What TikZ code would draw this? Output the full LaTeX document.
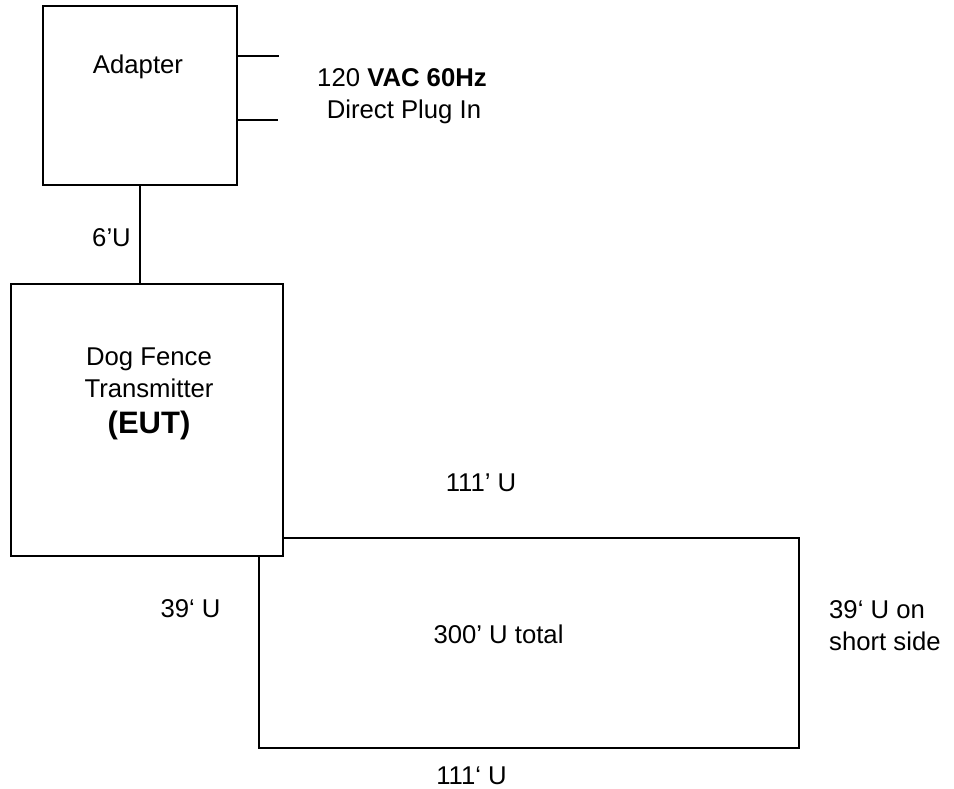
\documentclass[tikz,border=0pt]{standalone}
\usepackage{fontspec}
\setmainfont{Liberation Sans}
\begin{document}
\begin{tikzpicture}[x=1pt,y=-1pt,
  wire/.style={line width=1.8pt, line cap=rect},
  box/.style={draw, line width=1.8pt, rectangle, inner sep=0pt},
  lbl/.style={anchor=base, inner sep=0pt, font=\fontsize{25.7}{30}\selectfont},
  lblw/.style={anchor=base west, inner sep=0pt, font=\fontsize{25.7}{30}\selectfont}]
\useasboundingbox[fill=white] (0,0) rectangle (954,789);
% boxes
\node[box, minimum width=194pt, minimum height=179pt] (adapter) at (140,95.5) {};
\node[box, minimum width=272pt, minimum height=272pt] (tx) at (147,420) {};
% texts
\node[lbl] (tadapter) at (138,73.5) {Adapter};
\node[lbl] (tvac) at (402,86.5) {120 \textbf{VAC 60Hz}};
\node[lbl] (tplug) at (404,118.5) {Direct Plug In};
\node[lbl] (t6u) at (111.5,247) {6’U};
\node[lbl] (tdog) at (149,365.5) {Dog Fence};
\node[lbl] (ttrans) at (149,397.5) {Transmitter};
\node[anchor=base, inner sep=0pt, font=\fontsize{31}{36}\selectfont\bfseries] (teut) at (149,433) {(EUT)};
\node[lbl] (t111a) at (481,491.5) {111’ U};
\node[lbl] (t39a) at (190.5,617.5) {39‘ U};
\node[lbl] (t300) at (498.5,643.5) {300’ U total};
\node[lblw] (t39b) at (829,618.5) {39‘ U on};
\node[lblw] (tshort) at (829,650.5) {short side};
\node[lbl] (t111b) at (471.5,784.5) {111‘ U};
% plug prongs
\coordinate (p1) at (278,56);
\coordinate (p2) at (277,120);
\draw[wire] (adapter.east |- p1) -- (p1);
\draw[wire] (adapter.east |- p2) -- (p2);
% adapter to transmitter cable
\draw[wire] (adapter.south) -- (adapter.south |- tx.north);
% fence loop
\coordinate (c1) at (799,538);
\coordinate (c2) at (799,748);
\coordinate (c3) at (259,748);
\draw[wire] (tx.east |- c1) -- (c1) -- (c2) -- (c3) -- (c3 |- tx.south);
\end{tikzpicture}
\end{document}
